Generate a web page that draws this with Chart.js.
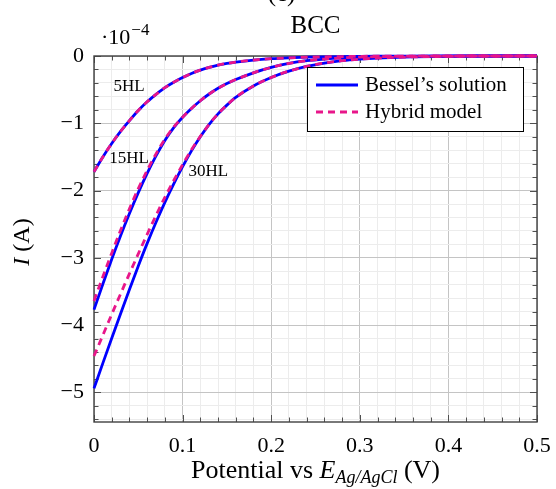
<!DOCTYPE html>
<html><head><meta charset="utf-8">
<script src="https://cdn.jsdelivr.net/npm/chart.js@4.4.0/dist/chart.umd.min.js"></script>
<style>html,body{margin:0;padding:0;background:#fff;}#wrap{width:556px;height:489px;}</style>
</head><body><div id="wrap"><canvas id="c" width="556" height="489"></canvas></div>
<script>
// Potential (V)
const potential = [0, 0.01, 0.02, 0.03, 0.04, 0.05, 0.06, 0.07, 0.08, 0.09, 0.10, 0.11, 0.12, 0.13, 0.14, 0.15, 0.16, 0.18, 0.20, 0.22, 0.24, 0.26, 0.28, 0.30, 0.32, 0.35, 0.40, 0.45, 0.50];
// Current I (x 1e-4 A)
const bessel5HL  = [-1.72, -1.50, -1.30, -1.12, -0.96, -0.81, -0.68, -0.57, -0.47, -0.39, -0.32, -0.26, -0.21, -0.17, -0.135, -0.11, -0.09, -0.06, -0.04, -0.027, -0.018, -0.012, -0.008, -0.005, -0.003, -0.0015, 0, 0, 0];
const hybrid5HL  = [-1.72, -1.50, -1.30, -1.12, -0.96, -0.81, -0.68, -0.57, -0.47, -0.39, -0.32, -0.26, -0.21, -0.17, -0.135, -0.11, -0.09, -0.06, -0.04, -0.027, -0.018, -0.012, -0.008, -0.005, -0.003, -0.0015, 0, 0, 0];
const bessel15HL = [-3.77, -3.39, -3.02, -2.67, -2.34, -2.03, -1.745, -1.485, -1.255, -1.065, -0.91, -0.78, -0.665, -0.565, -0.48, -0.41, -0.35, -0.25, -0.17, -0.11, -0.07, -0.045, -0.028, -0.017, -0.01, -0.005, -0.001, 0, 0];
const hybrid15HL = [-3.64, -3.28, -2.93, -2.59, -2.27, -1.97, -1.70, -1.455, -1.235, -1.055, -0.91, -0.78, -0.665, -0.565, -0.48, -0.41, -0.35, -0.25, -0.17, -0.11, -0.07, -0.045, -0.028, -0.017, -0.01, -0.005, -0.001, 0, 0];
const bessel30HL = [-4.94, -4.565, -4.195, -3.83, -3.47, -3.12, -2.785, -2.47, -2.175, -1.90, -1.645, -1.41, -1.20, -1.015, -0.86, -0.73, -0.615, -0.445, -0.32, -0.225, -0.155, -0.105, -0.07, -0.047, -0.031, -0.016, -0.005, -0.001, 0];
const hybrid30HL = [-4.46, -4.15, -3.84, -3.535, -3.235, -2.94, -2.65, -2.37, -2.10, -1.85, -1.615, -1.395, -1.195, -1.015, -0.86, -0.73, -0.615, -0.445, -0.32, -0.225, -0.155, -0.105, -0.07, -0.047, -0.031, -0.016, -0.005, -0.001, 0];

const xMajorTicks = [0, 0.1, 0.2, 0.3, 0.4, 0.5];
const xTickLabels = ['0', '0.1', '0.2', '0.3', '0.4', '0.5'];
const yMajorTicks = [-5, -4, -3, -2, -1, 0];
const yTickLabels = ['\u22125', '\u22124', '\u22123', '\u22122', '\u22121', '0'];
const seriesNames = ['Bessel\u2019s solution', 'Hybrid model'];
const curveNames = ['5HL', '15HL', '30HL'];

const X_MIN = 0, X_MAX = 0.5, X_MINOR = 0.02;
const Y_MIN = -5.44, Y_MAX = 0, Y_MINOR = 0.2;
const curveLabelAnchors = [[0.0395, -0.46], [0.0395, -1.53], [0.129, -1.72]];

const BLUE = '#0000ff';
const MAG = '#e8168a';
const SERIF = '"Liberation Serif", "DejaVu Serif", serif';

function pts(vals) { return potential.map((x, i) => ({x: x, y: vals[i]})); }
function near(a, b) { return Math.abs(a - b) < 1e-6; }
function majorIndex(list, v) { return list.findIndex(m => near(m, v)); }

function mkSet(label, vals, dashed) {
  return {
    label: label, data: pts(vals),
    borderColor: dashed ? MAG : BLUE,
    borderWidth: 2.8,
    borderDash: dashed ? [7, 5] : [],
    pointRadius: 0, fill: false,
    cubicInterpolationMode: 'monotone',
    order: dashed ? 0 : 1,
    clip: 4
  };
}

const frame = {
  id: 'frame',
  beforeDatasetsDraw(chart) {
    const {ctx, chartArea: a, scales: {x, y}} = chart;
    ctx.save();
    ctx.strokeStyle = '#505050';
    ctx.lineWidth = 1;
    ctx.beginPath();
    x.ticks.forEach(t => {
      const px = Math.round(x.getPixelForValue(t.value)) + 0.5;
      const L = majorIndex(xMajorTicks, t.value) >= 0 ? 7 : 4.5;
      ctx.moveTo(px, a.bottom); ctx.lineTo(px, a.bottom - L);
      ctx.moveTo(px, a.top); ctx.lineTo(px, a.top + L);
    });
    y.ticks.forEach(t => {
      const py = Math.round(y.getPixelForValue(t.value)) + 0.5;
      const L = majorIndex(yMajorTicks, t.value) >= 0 ? 7 : 4.5;
      ctx.moveTo(a.left, py); ctx.lineTo(a.left + L, py);
      ctx.moveTo(a.right, py); ctx.lineTo(a.right - L, py);
    });
    ctx.stroke();
    ctx.lineWidth = 1.4;
    ctx.strokeStyle = '#404040';
    ctx.strokeRect(a.left, a.top, a.right - a.left, a.bottom - a.top);
    ctx.restore();
  },
  afterDatasetsDraw(chart) {
    const {ctx, chartArea: a, scales: {x, y}} = chart;
    ctx.save();
    ctx.fillStyle = '#000';
    // curve labels
    ctx.font = '17px ' + SERIF;
    ctx.textAlign = 'center'; ctx.textBaseline = 'middle';
    curveNames.forEach((n, i) => {
      ctx.fillText(n, x.getPixelForValue(curveLabelAnchors[i][0]), y.getPixelForValue(curveLabelAnchors[i][1]));
    });
    // legend
    const lw = 216, lh = 64;
    const lx = a.right - 14 - lw, ly = a.top + 11;
    ctx.fillStyle = '#fff';
    ctx.fillRect(lx, ly, lw, lh);
    ctx.strokeStyle = '#000'; ctx.lineWidth = 1;
    ctx.strokeRect(lx + 0.5, ly + 0.5, lw, lh);
    const rows = [ly + 18, ly + 45];
    [BLUE, MAG].forEach((c, i) => {
      ctx.beginPath();
      ctx.strokeStyle = c; ctx.lineWidth = 2.8;
      ctx.setLineDash(i ? [7, 5] : []);
      ctx.moveTo(lx + 9, rows[i]); ctx.lineTo(lx + 51, rows[i]);
      ctx.stroke();
    });
    ctx.setLineDash([]);
    ctx.fillStyle = '#000';
    ctx.font = '21px ' + SERIF;
    ctx.textAlign = 'left'; ctx.textBaseline = 'middle';
    seriesNames.forEach((n, i) => ctx.fillText(n, lx + 58, rows[i]));
    // titles
    const cx = (a.left + a.right) / 2;
    ctx.textAlign = 'center'; ctx.textBaseline = 'alphabetic';
    ctx.font = '25px ' + SERIF;
    ctx.fillText('BCC', cx, 33);
    ctx.fillText('(c)', cx - 34, 1);
    // multiplier
    ctx.textAlign = 'left';
    ctx.font = '22px ' + SERIF;
    ctx.fillText('\u00b710', a.left + 7, 44);
    const w10 = ctx.measureText('\u00b710').width;
    ctx.font = '17px ' + SERIF;
    ctx.fillText('\u22124', a.left + 8 + w10, 35);
    // x axis title
    const parts = [
      {t: 'Potential vs ', f: '26px ' + SERIF, dy: 0},
      {t: 'E', f: 'italic 26px ' + SERIF, dy: 0},
      {t: 'Ag/AgCl', f: 'italic 18px ' + SERIF, dy: 5},
      {t: ' (V)', f: '26px ' + SERIF, dy: 0}
    ];
    let tw = 0;
    parts.forEach(p => { ctx.font = p.f; p.w = ctx.measureText(p.t).width; tw += p.w; });
    let px = cx - tw / 2;
    parts.forEach(p => { ctx.font = p.f; ctx.fillText(p.t, px, 478 + p.dy); px += p.w; });
    // y axis title
    ctx.save();
    ctx.translate(29, (a.top + a.bottom) / 2 + 3);
    ctx.rotate(-Math.PI / 2);
    const yp = [{t: 'I', f: 'italic 24px ' + SERIF}, {t: ' (A)', f: '24px ' + SERIF}];
    tw = 0;
    yp.forEach(p => { ctx.font = p.f; p.w = ctx.measureText(p.t).width; tw += p.w; });
    px = -tw / 2;
    yp.forEach(p => { ctx.font = p.f; ctx.fillText(p.t, px, 0); px += p.w; });
    ctx.restore();
    ctx.restore();
  }
};

function buildTicks(min, max, step) {
  const out = [];
  const n = Math.round((max - min) / step);
  for (let i = 0; i <= n; i++) out.push({value: +(min + i * step).toFixed(6)});
  return out;
}

Chart.defaults.font.family = SERIF;
Chart.defaults.color = '#000';

new Chart(document.getElementById('c'), {
  type: 'line',
  data: {
    datasets: [
      mkSet(seriesNames[1] + ' ' + curveNames[0], hybrid5HL, true),
      mkSet(seriesNames[1] + ' ' + curveNames[1], hybrid15HL, true),
      mkSet(seriesNames[1] + ' ' + curveNames[2], hybrid30HL, true),
      mkSet(seriesNames[0] + ' ' + curveNames[0], bessel5HL, false),
      mkSet(seriesNames[0] + ' ' + curveNames[1], bessel15HL, false),
      mkSet(seriesNames[0] + ' ' + curveNames[2], bessel30HL, false)
    ]
  },
  options: {
    responsive: false, animation: false,
    layout: {padding: {top: 56, right: 19, bottom: 0, left: 0}},
    plugins: {legend: {display: false}, tooltip: {enabled: false}, title: {display: false}},
    scales: {
      x: {
        type: 'linear', min: X_MIN, max: X_MAX,
        afterBuildTicks: s => { s.ticks = buildTicks(X_MIN, X_MAX, X_MINOR); },
        afterFit: s => { s.height = 67; s.paddingLeft = 0; s.paddingRight = 0; },
        border: {display: false},
        grid: {
          drawTicks: false,
          color: c => majorIndex(xMajorTicks, c.tick.value) >= 0 ? '#c4c4c4' : '#ececec',
          lineWidth: 1
        },
        ticks: {
          autoSkip: false, maxRotation: 0, padding: 11,
          font: {size: 22},
          callback: v => { const i = majorIndex(xMajorTicks, v); return i >= 0 ? xTickLabels[i] : ''; }
        }
      },
      y: {
        type: 'linear', min: Y_MIN, max: Y_MAX,
        afterBuildTicks: s => { s.ticks = buildTicks(-5.4, Y_MAX, Y_MINOR); },
        afterFit: s => { s.width = 94; s.paddingTop = 0; s.paddingBottom = 0; },
        border: {display: false},
        grid: {
          drawTicks: false,
          color: c => majorIndex(yMajorTicks, c.tick.value) >= 0 ? '#c4c4c4' : '#ececec',
          lineWidth: 1
        },
        ticks: {
          autoSkip: false, padding: 10,
          font: {size: 22},
          callback: v => { const i = majorIndex(yMajorTicks, v); return i >= 0 ? yTickLabels[i] : ''; }
        }
      }
    }
  },
  plugins: [frame]
});
</script></body></html>
